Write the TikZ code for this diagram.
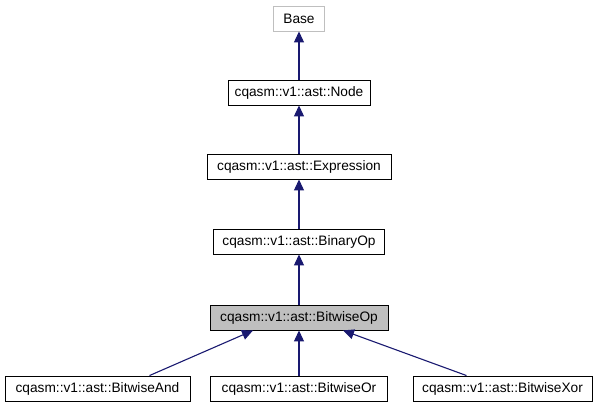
\documentclass[tikz,border=0pt]{standalone}
\usepackage{fontspec}
\setmainfont{Liberation Sans}
\usetikzlibrary{arrows.meta}
\definecolor{edgeblue}{HTML}{191970}
\definecolor{boxgrey}{HTML}{BFBFBF}
\tikzset{
  box/.style={draw=black, line width=0.9pt, rectangle, minimum height=25pt, inner sep=2pt, font=\fontsize{13.7pt}{16pt}\selectfont},
  edge/.style={draw=edgeblue, line width=1.1pt, {Triangle[length=11pt,width=10pt]}-}
}
\begin{document}
\begin{tikzpicture}[x=1pt,y=-1pt]
\useasboundingbox (0,0) rectangle (596,411);
\node[box, draw=boxgrey, minimum width=51pt] (base) at (299,18.5) {Base};
\node[box, minimum width=142pt] (node) at (299,92.5) {cqasm::v1::ast::Node};
\node[box, minimum width=184pt] (expr) at (299,166.5) {cqasm::v1::ast::Expression};
\node[box, minimum width=171pt] (bin) at (299,241.5) {cqasm::v1::ast::BinaryOp};
\node[box, fill=boxgrey, minimum width=178pt] (bop) at (299,317.5) {cqasm::v1::ast::BitwiseOp};
\node[box, minimum width=185pt] (band) at (97.5,388.5) {cqasm::v1::ast::BitwiseAnd};
\node[box, minimum width=177pt] (bor) at (299,388.5) {cqasm::v1::ast::BitwiseOr};
\node[box, minimum width=179pt] (bxor) at (502.5,388.5) {cqasm::v1::ast::BitwiseXor};
\draw[edge] (base.south) -- (node.north);
\draw[edge] (node.south) -- (expr.north);
\draw[edge] (expr.south) -- (bin.north);
\draw[edge] (bin.south) -- (bop.north);
\draw[edge] ([xshift=-46pt]bop.south) -- ([xshift=52pt]band.north);
\draw[edge] (bop.south) -- (bor.north);
\draw[edge] ([xshift=44pt]bop.south) -- ([xshift=-36pt]bxor.north);
\end{tikzpicture}
\end{document}
